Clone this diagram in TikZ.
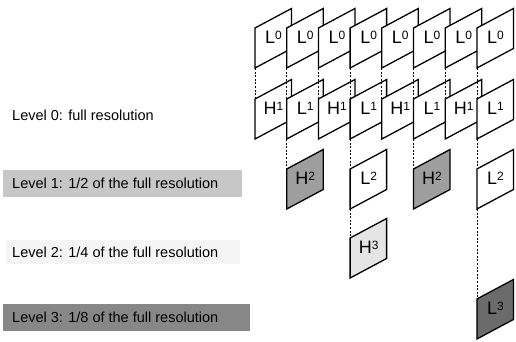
\documentclass[tikz,border=0pt]{standalone}
\usepackage{fontspec}
\setmainfont{Liberation Sans}
\definecolor{hgray}{gray}{0.62}
\definecolor{hthree}{gray}{0.9}
\definecolor{lthree}{gray}{0.42}
\definecolor{bandone}{gray}{0.78}
\definecolor{bandtwo}{gray}{0.96}
\definecolor{bandthree}{gray}{0.53}
\newcommand\lab[2]{{\fontsize{18}{18}\selectfont #1}\raisebox{4pt}{\fontsize{12}{12}\selectfont #2}}
\newcommand\pframe[5]{%
  \path[framestyle,fill=#4] (#2,-#3) -- ++(0,-40) -- ++(36.5,19.5) -- ++(0,40) -- cycle;
  \coordinate (#1t) at (#2,-#3);
  \coordinate (#1b) at (#2,-#3-40);
  \node[flabel] (#1) at (#2+18.5,-#3-9) {\lab#5};}
\tikzset{
  framestyle/.style={draw=black,line width=1.3pt,line join=miter},
  flabel/.style={inner sep=0pt,anchor=center},
  conn/.style={draw=black,line width=0.8pt,dash pattern=on 2pt off 1.6pt},
  levtext/.style={anchor=west,inner sep=0pt,font=\fontsize{14.5}{14.5}\selectfont},
}
\begin{document}
\begin{tikzpicture}[x=1pt,y=1pt]
\useasboundingbox (0,0) rectangle (516,-341);
% level bands and labels
\fill[bandone] (3,-170) rectangle (242,-197);
\fill[bandtwo] (6,-240) rectangle (240,-264);
\fill[bandthree] (3,-304) rectangle (250,-331);
\node[levtext] (lv0) at (12,-115) {Level 0: full resolution};
\node[levtext] (lv1) at (12,-183.5) {Level 1: 1/2 of the full resolution};
\node[levtext] (lv2) at (12,-252.5) {Level 2: 1/4 of the full resolution};
\node[levtext] (lv3) at (12,-317.5) {Level 3: 1/8 of the full resolution};
% row 1
\pframe{a0}{255}{28}{white}{{L}{0}}
\pframe{a1}{286.7}{28}{white}{{L}{0}}
\pframe{a2}{318.4}{28}{white}{{L}{0}}
\pframe{a3}{350.1}{28}{white}{{L}{0}}
\pframe{a4}{381.8}{28}{white}{{L}{0}}
\pframe{a5}{413.5}{28}{white}{{L}{0}}
\pframe{a6}{445.2}{28}{white}{{L}{0}}
\pframe{a7}{476.9}{28}{white}{{L}{0}}
% row 2
\pframe{b0}{255}{99}{white}{{H}{1}}
\pframe{b1}{286.7}{99}{white}{{L}{1}}
\pframe{b2}{318.4}{99}{white}{{H}{1}}
\pframe{b3}{350.1}{99}{white}{{L}{1}}
\pframe{b4}{381.8}{99}{white}{{H}{1}}
\pframe{b5}{413.5}{99}{white}{{L}{1}}
\pframe{b6}{445.2}{99}{white}{{H}{1}}
\pframe{b7}{476.9}{99}{white}{{L}{1}}
% row 3
\pframe{c1}{286.7}{169}{hgray}{{H}{2}}
\pframe{c3}{350.1}{169}{white}{{L}{2}}
\pframe{c5}{413.5}{169}{hgray}{{H}{2}}
\pframe{c7}{476.9}{169}{white}{{L}{2}}
% row 4
\pframe{d3}{350.1}{238}{hthree}{{H}{3}}
% row 5
\pframe{e7}{476.9}{299}{lthree}{{L}{3}}
% connectors
\foreach \i in {0,...,7}{\draw[conn] (a\i b) -- (b\i t);}
\foreach \i in {1,3,5,7}{\draw[conn] (b\i b) -- (c\i t);}
\draw[conn] (c3b) -- (d3t);
\draw[conn] (c7b) -- (e7t);
\end{tikzpicture}
\end{document}
